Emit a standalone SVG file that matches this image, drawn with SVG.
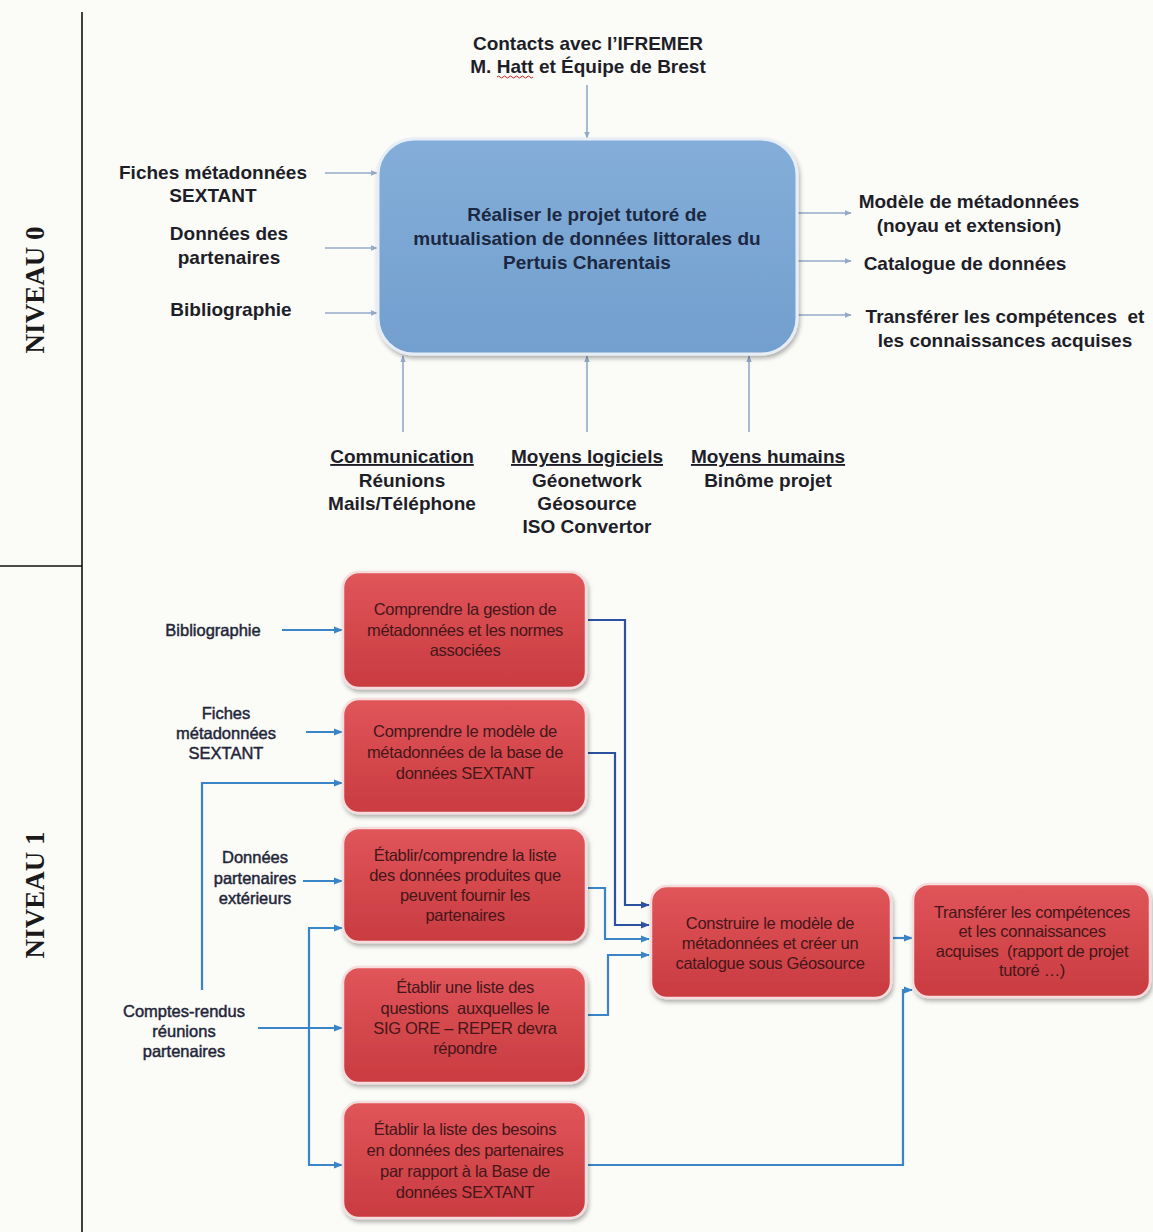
<svg xmlns="http://www.w3.org/2000/svg" width="1153" height="1232" viewBox="0 0 1153 1232">
<style>
.l0{font-family:"Liberation Sans",Arial,sans-serif;font-weight:bold;font-size:19px;fill:#1e1e28;text-anchor:middle}
.bx0{font-family:"Liberation Sans",Arial,sans-serif;font-weight:bold;font-size:19px;fill:#1c2842;text-anchor:middle}
.l1{font-family:"Liberation Sans",Arial,sans-serif;font-size:16.5px;fill:#232638;stroke:#232638;stroke-width:0.45;text-anchor:middle}
.rt{font-family:"Liberation Sans",Arial,sans-serif;font-size:16.5px;fill:#45161a;text-anchor:middle;letter-spacing:-0.3px}
.niv{font-family:"Liberation Serif","Times New Roman",serif;font-weight:bold;font-size:27px;fill:#1a1a1a;text-anchor:middle}
.c0{stroke:#93aaca;stroke-width:1.6;fill:none}
.c1{stroke:#3a84c8;stroke-width:2.2;fill:none}
.c1d{stroke:#2b52a0;stroke-width:2.2;fill:none}
.red{fill:url(#gRed);stroke:#f6dcdc;stroke-width:2.5;filter:url(#sh)}
.blue{fill:url(#gBlue);stroke:#e6edf6;stroke-width:3;filter:url(#sh)}
.u{text-decoration:underline}
</style>
<defs>
<linearGradient id="gRed" x1="0" y1="0" x2="0" y2="1">
<stop offset="0" stop-color="#e0555a"/><stop offset="1" stop-color="#c93b40"/>
</linearGradient>
<linearGradient id="gBlue" x1="0" y1="0" x2="0" y2="1">
<stop offset="0" stop-color="#84aed9"/><stop offset="1" stop-color="#729fce"/>
</linearGradient>
<filter id="sh" x="-10%" y="-10%" width="125%" height="130%">
<feDropShadow dx="1.5" dy="3" stdDeviation="2" flood-color="#000" flood-opacity="0.3"/>
</filter>
<marker id="a0" viewBox="0 0 10 10" refX="9" refY="5" markerWidth="7" markerHeight="7" markerUnits="userSpaceOnUse" orient="auto">
<path d="M0,1 L10,5 L0,9 z" fill="#93aaca"/>
</marker>
<marker id="a1" viewBox="0 0 10 10" refX="9" refY="5" markerWidth="9" markerHeight="9" markerUnits="userSpaceOnUse" orient="auto">
<path d="M0,1 L10,5 L0,9 z" fill="#3a84c8"/>
</marker>
<marker id="a1d" viewBox="0 0 10 10" refX="9" refY="5" markerWidth="9" markerHeight="9" markerUnits="userSpaceOnUse" orient="auto">
<path d="M0,1 L10,5 L0,9 z" fill="#2b52a0"/>
</marker>
</defs>
<rect x="0" y="0" width="1153" height="1232" fill="#fbfbf8"/>

<g id="frame">
<line x1="82" y1="12" x2="82" y2="1232" stroke="#111" stroke-width="1.6"/>
<line x1="0" y1="566" x2="82" y2="566" stroke="#111" stroke-width="1.6"/>
<text class="niv" transform="translate(44,290) rotate(-90)">NIVEAU 0</text>
<text class="niv" transform="translate(44,895) rotate(-90)">NIVEAU 1</text>
</g>

<g id="connectors">
<line class="c0" x1="587" y1="85" x2="587" y2="138" marker-end="url(#a0)"/>
<line class="c0" x1="325" y1="173" x2="377" y2="173" marker-end="url(#a0)"/>
<line class="c0" x1="325" y1="248" x2="377" y2="248" marker-end="url(#a0)"/>
<line class="c0" x1="325" y1="313" x2="377" y2="313" marker-end="url(#a0)"/>
<line class="c0" x1="798" y1="213" x2="851" y2="213" marker-end="url(#a0)"/>
<line class="c0" x1="798" y1="261" x2="851" y2="261" marker-end="url(#a0)"/>
<line class="c0" x1="798" y1="315" x2="851" y2="315" marker-end="url(#a0)"/>
<line class="c0" x1="403" y1="432" x2="403" y2="356" marker-end="url(#a0)"/>
<line class="c0" x1="587" y1="432" x2="587" y2="356" marker-end="url(#a0)"/>
<line class="c0" x1="749" y1="432" x2="749" y2="356" marker-end="url(#a0)"/>
<line class="c1" x1="282" y1="630" x2="342" y2="630" marker-end="url(#a1)"/>
<line class="c1" x1="306" y1="732" x2="342" y2="732" marker-end="url(#a1)"/>
<polyline class="c1" points="202,990 202,783 342,783" marker-end="url(#a1)"/>
<line class="c1" x1="303" y1="881" x2="342" y2="881" marker-end="url(#a1)"/>
<polyline class="c1" points="309,1028 309,928 342,928" marker-end="url(#a1)"/>
<polyline class="c1" points="309,1028 309,1165 342,1165" marker-end="url(#a1)"/>
<line class="c1" x1="258" y1="1028" x2="342" y2="1028" marker-end="url(#a1)"/>
<polyline class="c1d" points="588,620 625,620 625,905 649,905" marker-end="url(#a1d)"/>
<polyline class="c1d" points="588,753 615,753 615,925 649,925" marker-end="url(#a1d)"/>
<polyline class="c1" points="588,888 605,888 605,939 649,939" marker-end="url(#a1)"/>
<polyline class="c1" points="588,1015 608,1015 608,955 649,955" marker-end="url(#a1)"/>
<line class="c1" x1="893" y1="938" x2="912" y2="938" marker-end="url(#a1)"/>
<polyline class="c1" points="588,1165 903,1165 903,990 912,990" marker-end="url(#a1)"/>
</g>

<g id="n0-main">
<rect class="blue" x="378" y="139" width="419" height="215" rx="36"/>
<text class="bx0" x="587" y="221">Réaliser le projet tutoré de</text>
<text class="bx0" x="587" y="245">mutualisation de données littorales du</text>
<text class="bx0" x="587" y="269">Pertuis Charentais</text>
</g>
<g id="n0-contacts">
<text class="l0" x="588" y="50">Contacts avec l’IFREMER</text>
<text class="l0" x="588" y="73">M. Hatt et Équipe de Brest</text>
<path d="M497,77 q1.5,-2 3,0 t3,0 t3,0 t3,0 t3,0 t3,0 t3,0 t3,0 t3,0 t3,0 t3,0 t3,0" stroke="#d02020" stroke-width="1" fill="none"/>
</g>
<g id="n0-fiches">
<text class="l0" x="213" y="179">Fiches métadonnées</text>
<text class="l0" x="213" y="202">SEXTANT</text>
</g>
<g id="n0-donnees">
<text class="l0" x="229" y="240">Données des</text>
<text class="l0" x="229" y="264">partenaires</text>
</g>
<g id="n0-biblio">
<text class="l0" x="231" y="316">Bibliographie</text>
</g>
<g id="n0-modele">
<text class="l0" x="969" y="208">Modèle de métadonnées</text>
<text class="l0" x="969" y="232">(noyau et extension)</text>
</g>
<g id="n0-catalogue">
<text class="l0" x="965" y="270">Catalogue de données</text>
</g>
<g id="n0-transferer">
<text class="l0" x="1005" y="323" xml:space="preserve">Transférer les compétences  et</text>
<text class="l0" x="1005" y="347">les connaissances acquises</text>
</g>
<g id="n0-communication">
<text class="l0 u" x="402" y="463">Communication</text>
<text class="l0" x="402" y="487">Réunions</text>
<text class="l0" x="402" y="510">Mails/Téléphone</text>
</g>
<g id="n0-logiciels">
<text class="l0 u" x="587" y="463">Moyens logiciels</text>
<text class="l0" x="587" y="487">Géonetwork</text>
<text class="l0" x="587" y="510">Géosource</text>
<text class="l0" x="587" y="533">ISO Convertor</text>
</g>
<g id="n0-humains">
<text class="l0 u" x="768" y="463">Moyens humains</text>
<text class="l0" x="768" y="487">Binôme projet</text>
</g>

<g id="n1-biblio"><text class="l1" x="213" y="636">Bibliographie</text></g>
<g id="n1-fiches">
<text class="l1" x="226" y="719">Fiches</text>
<text class="l1" x="226" y="739">métadonnées</text>
<text class="l1" x="226" y="759">SEXTANT</text>
</g>
<g id="n1-donnees">
<text class="l1" x="255" y="863">Données</text>
<text class="l1" x="255" y="884">partenaires</text>
<text class="l1" x="255" y="904">extérieurs</text>
</g>
<g id="n1-comptes">
<text class="l1" x="184" y="1017">Comptes-rendus</text>
<text class="l1" x="184" y="1037">réunions</text>
<text class="l1" x="184" y="1057">partenaires</text>
</g>

<g id="b1">
<rect class="red" x="343" y="572" width="243" height="116" rx="16"/>
<text class="rt" x="465" y="615">Comprendre la gestion de</text>
<text class="rt" x="465" y="636">métadonnées et les normes</text>
<text class="rt" x="465" y="656">associées</text>
</g>
<g id="b2">
<rect class="red" x="343" y="699" width="243" height="114" rx="16"/>
<text class="rt" x="465" y="737">Comprendre le modèle de</text>
<text class="rt" x="465" y="758">métadonnées de la base de</text>
<text class="rt" x="465" y="779">données SEXTANT</text>
</g>
<g id="b3">
<rect class="red" x="343" y="828" width="243" height="114" rx="16"/>
<text class="rt" x="465" y="861">Établir/comprendre la liste</text>
<text class="rt" x="465" y="881">des données produites que</text>
<text class="rt" x="465" y="901">peuvent fournir les</text>
<text class="rt" x="465" y="921">partenaires</text>
</g>
<g id="b4">
<rect class="red" x="343" y="967" width="243" height="116" rx="16"/>
<text class="rt" x="465" y="993">Établir une liste des</text>
<text class="rt" x="465" y="1014" xml:space="preserve">questions  auxquelles le</text>
<text class="rt" x="465" y="1034">SIG ORE – REPER devra</text>
<text class="rt" x="465" y="1054">répondre</text>
</g>
<g id="b5">
<rect class="red" x="343" y="1102" width="243" height="116" rx="16"/>
<text class="rt" x="465" y="1135">Établir la liste des besoins</text>
<text class="rt" x="465" y="1156">en données des partenaires</text>
<text class="rt" x="465" y="1177">par rapport à la Base de</text>
<text class="rt" x="465" y="1198">données SEXTANT</text>
</g>
<g id="b6">
<rect class="red" x="651" y="886" width="240" height="112" rx="16"/>
<text class="rt" x="770" y="929">Construire le modèle de</text>
<text class="rt" x="770" y="949">métadonnées et créer un</text>
<text class="rt" x="770" y="969">catalogue sous Géosource</text>
</g>
<g id="b7">
<rect class="red" x="913" y="884" width="237" height="113" rx="16"/>
<text class="rt" x="1032" y="918">Transférer les compétences</text>
<text class="rt" x="1032" y="937">et les connaissances</text>
<text class="rt" x="1032" y="957" xml:space="preserve">acquises  (rapport de projet</text>
<text class="rt" x="1032" y="976">tutoré …)</text>
</g>
</svg>
